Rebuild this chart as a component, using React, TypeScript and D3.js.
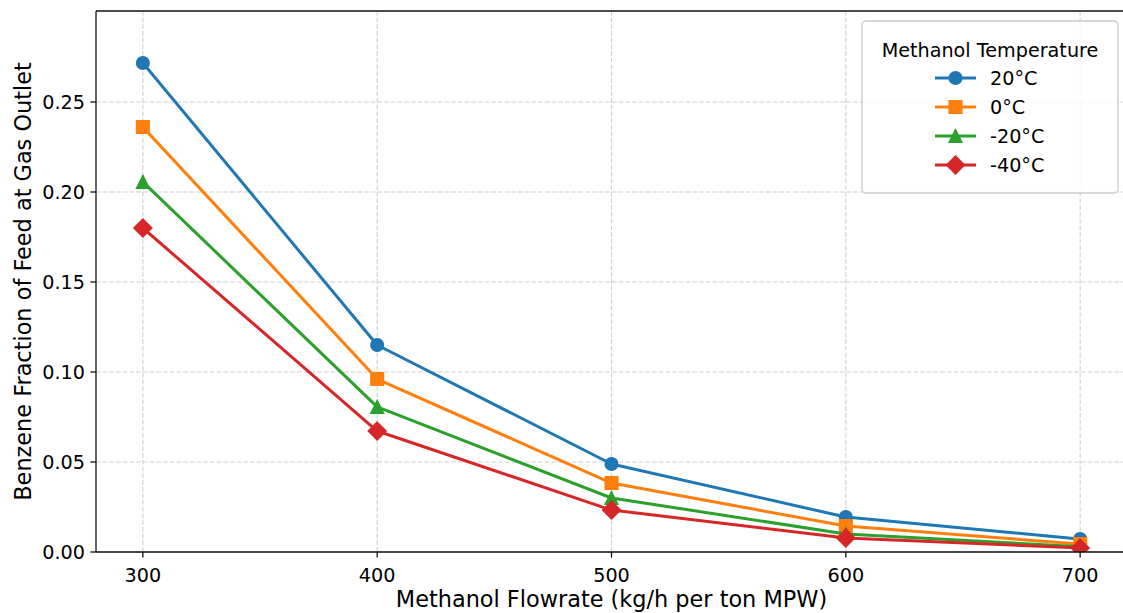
import React from "react";
import * as d3 from "d3";

const flowrates = [300, 400, 500, 600, 700];
const seriesNames = ["20°C", "0°C", "-20°C", "-40°C"];
const s20 = [0.2717, 0.115, 0.0489, 0.0194, 0.0072];
const s0 = [0.2361, 0.0961, 0.0383, 0.0144, 0.0044];
const sm20 = [0.2056, 0.0806, 0.0300, 0.0100, 0.0030];
const sm40 = [0.1800, 0.0672, 0.0233, 0.0078, 0.0022];
const seriesValues = [s20, s0, sm20, sm40];
const colors = ["#1f77b4", "#ff7f0e", "#2ca02c", "#d62728"];
const markers = ["circle", "square", "triangle", "diamond"];
const xTicks = [300, 400, 500, 600, 700];
const yTicks = [0, 0.05, 0.1, 0.15, 0.2, 0.25];

const W = 1123, H = 613;
const L = 96, R = 1127, T = 11, B = 552;
const FONT = "DejaVu Sans, sans-serif";

function markerPath(kind: string, ms: number): string {
  const h = ms / 2;
  if (kind === "circle") {
    return `M${h},0A${h},${h} 0 1,1 ${-h},0A${h},${h} 0 1,1 ${h},0Z`;
  }
  if (kind === "square") {
    return `M${-h},${-h}L${h},${-h}L${h},${h}L${-h},${h}Z`;
  }
  if (kind === "triangle") {
    return `M0,${-h}L${h},${h}L${-h},${h}Z`;
  }
  const d = ms * 0.7071;
  return `M0,${-d}L${d},0L0,${d}L${-d},0Z`;
}

export default function App() {
  const x = d3.scaleLinear().domain([280, 720]).range([L, R]);
  const y = d3.scaleLinear().domain([0, 0.30056]).range([B, T]);
  const line = d3
    .line<number>()
    .x((_, i) => x(flowrates[i]))
    .y((v) => y(v));
  const ms = 12.5;
  const legX = 862, legY = 21, legW = 256, legH = 172;
  return (
    <svg width={W} height={H} style={{ position: "absolute", left: 0, top: 0 }}>
      <rect x={0} y={0} width={W} height={H} fill="white" />
      <defs>
        <clipPath id="plot">
          <rect x={L} y={T} width={R - L} height={B - T} />
        </clipPath>
      </defs>
      {/* grid */}
      <g stroke="#b0b0b0" strokeOpacity={0.6} strokeWidth={1.1} strokeDasharray="4.7,2">
        {xTicks.map((t) => (
          <line key={"gx" + t} x1={x(t)} x2={x(t)} y1={T} y2={B} />
        ))}
        {yTicks.map((t) => (
          <line key={"gy" + t} x1={L} x2={R} y1={y(t)} y2={y(t)} />
        ))}
      </g>
      {/* series */}
      <g clipPath="url(#plot)">
        {seriesValues.map((vals, si) => (
          <g key={si}>
            <path d={line(vals) || ""} fill="none" stroke={colors[si]} strokeWidth={3} strokeLinejoin="round" strokeLinecap="square" />
            {vals.map((v, i) => (
              <path
                key={i}
                d={markerPath(markers[si], ms)}
                transform={`translate(${x(flowrates[i])},${y(v)})`}
                fill={colors[si]}
                stroke={colors[si]}
                strokeWidth={1.6}
              />
            ))}
          </g>
        ))}
      </g>
      {/* spines */}
      <g stroke="#111" strokeWidth={1.3} fill="none">
        <line x1={L} x2={L} y1={T} y2={B} />
        <line x1={L} x2={R} y1={B} y2={B} />
        <line x1={L} x2={R} y1={T} y2={T} />
        <line x1={R} x2={R} y1={T} y2={B} />
      </g>
      {/* ticks */}
      <g fontFamily={FONT} fontSize={19.2} fill="#000">
        {xTicks.map((t) => (
          <g key={"xt" + t}>
            <line x1={x(t)} x2={x(t)} y1={B} y2={B + 5.6} stroke="#111" strokeWidth={1.3} />
            <text x={x(t)} y={B + 30} textAnchor="middle">{t}</text>
          </g>
        ))}
        {yTicks.map((t) => (
          <g key={"yt" + t}>
            <line x1={L - 5.6} x2={L} y1={y(t)} y2={y(t)} stroke="#111" strokeWidth={1.3} />
            <text x={L - 11} y={y(t)} dy="0.36em" textAnchor="end">{t.toFixed(2)}</text>
          </g>
        ))}
      </g>
      {/* axis labels */}
      <text x={(L + R) / 2} y={607} textAnchor="middle" fontFamily={FONT} fontSize={22.4}>
        Methanol Flowrate (kg/h per ton MPW)
      </text>
      <text
        transform={`translate(31,${(T + B) / 2}) rotate(-90)`}
        textAnchor="middle"
        fontFamily={FONT}
        fontSize={22.4}
      >
        Benzene Fraction of Feed at Gas Outlet
      </text>
      {/* legend */}
      <g>
        <rect x={legX} y={legY} width={legW} height={legH} rx={4} ry={4} fill="white" fillOpacity={0.8} stroke="#cccccc" strokeWidth={1.3} />
        <text x={legX + legW / 2} y={57} textAnchor="middle" fontFamily={FONT} fontSize={19.2}>
          Methanol Temperature
        </text>
        {seriesNames.map((name, si) => {
          const cy = 78 + si * 29;
          return (
            <g key={name}>
              <line x1={935} x2={976} y1={cy} y2={cy} stroke={colors[si]} strokeWidth={3} />
              <path d={markerPath(markers[si], ms)} transform={`translate(955.5,${cy})`} fill={colors[si]} stroke={colors[si]} strokeWidth={1.6} />
              <text x={990} y={cy} dy="0.36em" fontFamily={FONT} fontSize={19.2}>{name}</text>
            </g>
          );
        })}
      </g>
    </svg>
  );
}
